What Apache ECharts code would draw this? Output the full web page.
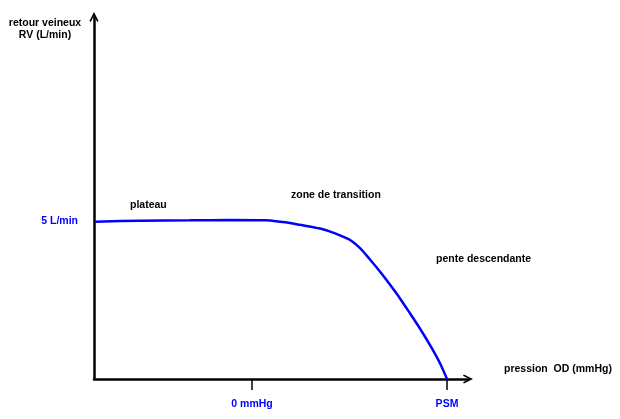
<!DOCTYPE html>
<html>
<head>
<meta charset="utf-8">
<script src="https://cdn.jsdelivr.net/npm/echarts@6/dist/echarts.min.js"></script>
<style>html,body{margin:0;padding:0;background:#fff}#c{width:620px;height:419px}</style>
</head>
<body>
<div id="c"></div>
<script>
// Pressure axis (arbitrary units: 0 mmHg = 0, PSM = 10)
const pressure = [-8.05, -5.74, -3.18, -1.13, 0.67, 1.44, 1.95, 2.46, 3.49, 4.26, 5.03, 5.54, 6.05, 6.56, 7.08, 7.59, 8.10, 8.62, 9.13, 9.64, 10];
// Venous return (L/min)
const venousReturn = [4.98, 5.01, 5.02, 5.03, 5.02, 4.98, 4.94, 4.88, 4.76, 4.61, 4.40, 4.14, 3.78, 3.40, 2.98, 2.55, 2.08, 1.59, 1.07, 0.50, 0];
const xTickValues = [0, 10];
const xTickLabels = ['0 mmHg', 'PSM'];
const yTickValues = [5];
const yTickLabels = ['5 L/min'];
const annotations = ['plateau', 'zone de transition', 'pente descendante'];
const yAxisTitle = 'retour veineux\nRV (L/min)';
const xAxisTitle = 'pression  OD (mmHg)';

const FONT = '"Liberation Sans", Arial, sans-serif';
const BLUE = '#0000ff';
const arrow = 'path://M0,10 L5,0 L10,10 L8.6,11 L5,4 L1.4,11 Z';

const chart = echarts.init(document.getElementById('c'), null, {renderer: 'canvas'});
const txt = (t, x, y, align, color) => ({
  type: 'text', x: x, y: y,
  style: {text: t, fill: color || '#000', font: 'bold 10.5px ' + FONT, align: align || 'left', verticalAlign: 'middle', lineHeight: 12}
});
chart.setOption({
  animation: false,
  grid: {left: 94, right: 152, top: 17, bottom: 40},
  xAxis: {
    type: 'value', min: -8.1026, max: 11.077,
    splitLine: {show: false},
    axisLine: {onZero: false, lineStyle: {color: '#000', width: 2.5}, symbol: ['none', arrow], symbolSize: [12, 10]},
    axisTick: {show: true, customValues: xTickValues, length: 11, lineStyle: {color: '#000', width: 1.5}},
    axisLabel: {customValues: xTickValues, margin: 20, color: BLUE, fontFamily: FONT, fontWeight: 'bold', fontSize: 10.5,
      formatter: v => xTickLabels[xTickValues.indexOf(v)]}
  },
  yAxis: {
    type: 'value', min: 0, max: 11.456,
    splitLine: {show: false},
    axisLine: {onZero: false, lineStyle: {color: '#000', width: 2.5}, symbol: ['none', arrow], symbolSize: [12, 10]},
    axisTick: {show: false},
    axisLabel: {customValues: yTickValues, margin: 16, color: BLUE, fontFamily: FONT, fontWeight: 'bold', fontSize: 10.5,
      formatter: v => yTickLabels[yTickValues.indexOf(v)]}
  },
  series: [{
    type: 'line', smooth: 0.3, symbol: 'none',
    data: pressure.map((p, i) => [p, venousReturn[i]]),
    lineStyle: {color: BLUE, width: 2.5}
  }],
  graphic: [
    txt(yAxisTitle, 45, 29, 'center'),
    txt(xAxisTitle, 504, 369, 'left'),
    txt(annotations[0], 130, 205, 'left'),
    txt(annotations[1], 291, 195, 'left'),
    txt(annotations[2], 436, 259, 'left')
  ]
});
</script>
</body>
</html>
